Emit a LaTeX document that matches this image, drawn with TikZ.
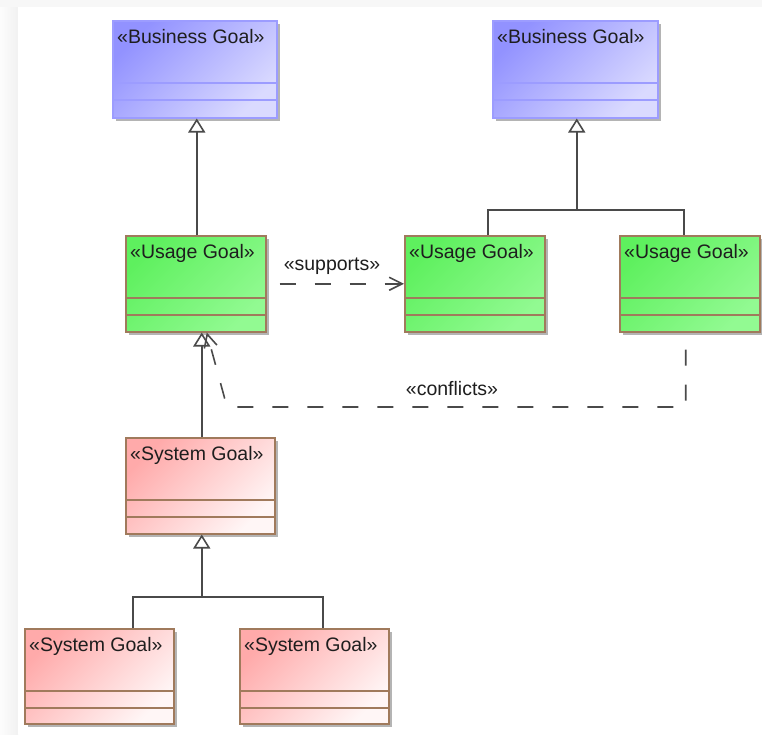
\documentclass[tikz,border=0pt]{standalone}
\usepackage{fontspec}
\setmainfont{Liberation Sans}
\usetikzlibrary{arrows.meta}

\definecolor{bgA}{HTML}{9292FF}
\definecolor{bgB}{HTML}{DADAFF}
\definecolor{bgEdge}{HTML}{9C9CFF}
\definecolor{ugA}{HTML}{5EF05E}
\definecolor{ugB}{HTML}{92FA92}
\definecolor{sgA}{HTML}{FFAAAA}
\definecolor{sgB}{HTML}{FFF6F6}
\definecolor{brownEdge}{HTML}{A07A5C}
\definecolor{shadowgray}{HTML}{B4B4B4}
\definecolor{linegray}{HTML}{4A4A4A}
\definecolor{textgray}{HTML}{1E1E1E}

\tikzset{
  classbox/.style={anchor=north west, inner sep=0pt, line width=1.5pt,
    preaction={fill=shadowgray, transform canvas={xshift=3pt,yshift=-3pt}}},
  business/.style={classbox, draw=bgEdge, top color=bgA, bottom color=bgB, shading angle=45},
  usage/.style={classbox, draw=brownEdge, top color=ugA, bottom color=ugB, shading angle=45},
  systemg/.style={classbox, draw=brownEdge, top color=sgA, bottom color=sgB, shading angle=45},
  stereo/.style={anchor=base west, inner sep=0pt, text=textgray, font=\fontsize{19.5}{23}\selectfont},
  edgelabel/.style={anchor=base, inner sep=0pt, text=textgray, font=\fontsize{19.5}{23}\selectfont},
  gen/.style={draw=linegray, line width=1.6pt,
    -{Triangle[open, length=14pt, width=17pt]}},
  link/.style={draw=linegray, line width=1.6pt},
  dep/.style={draw=linegray, line width=1.6pt, dash pattern=on 16pt off 19pt,
    -{Straight Barb[length=13pt, width=13pt]}},
}

\begin{document}
\begin{tikzpicture}[x=1pt, y=-1pt]
  \useasboundingbox (0,0) rectangle (762,734);
  % window frame
  \fill[gray!6] (0,0) rectangle (762,734);
  \shade[left color=gray!2, right color=gray!11] (0,7) rectangle (18,734);
  \fill[white] (18,7) rectangle (762,734);

  % classes
  \node[business, minimum width=164pt, minimum height=97pt] (bg1) at (112,20) {};
  \node[business, minimum width=165pt, minimum height=97pt] (bg2) at (492,20) {};
  \node[usage, minimum width=140pt, minimum height=96pt] (ug1) at (125,235) {};
  \node[usage, minimum width=140pt, minimum height=96pt] (ug2) at (404,235) {};
  \node[usage, minimum width=140pt, minimum height=96pt] (ug3) at (619,235) {};
  \node[systemg, minimum width=149pt, minimum height=96pt] (sg1) at (125,437) {};
  \node[systemg, minimum width=149pt, minimum height=95pt] (sg2) at (24,628) {};
  \node[systemg, minimum width=149pt, minimum height=95pt] (sg3) at (239,628) {};

  % compartment separators
  \foreach \n/\c in {bg1/bgEdge, bg2/bgEdge, ug1/brownEdge, ug2/brownEdge, ug3/brownEdge,
                     sg1/brownEdge, sg2/brownEdge, sg3/brownEdge} {
    \draw[\c, line width=1.5pt] ([yshift=-63pt]\n.north west) -- ([yshift=-63pt]\n.north east);
    \draw[\c, line width=1.5pt] ([yshift=-80pt]\n.north west) -- ([yshift=-80pt]\n.north east);
  }

  % stereotype names
  \foreach \n/\t in {bg1/Business Goal, bg2/Business Goal, ug1/Usage Goal, ug2/Usage Goal,
                     ug3/Usage Goal, sg1/System Goal, sg2/System Goal, sg3/System Goal} {
    \node[stereo] (\n-name) at ([xshift=5pt, yshift=-23pt]\n.north west) {«\t»};
  }

  % generalizations
  \draw[gen] ([xshift=1pt]ug1.north) -- ([xshift=1pt]ug1.north |- bg1.south);
  \draw[gen] ([xshift=1.5pt]sg1.north) -- ([xshift=1.5pt]sg1.north |- ug1.south);

  \coordinate (jtop) at ([xshift=1.5pt]bg2.south |- 0,210);
  \draw[link] ([xshift=13pt]ug2.north) |- (jtop) -| ([xshift=-6pt]ug3.north);
  \draw[gen] (jtop) -- ([xshift=1.5pt]bg2.south);

  \coordinate (jbot) at ([xshift=1.5pt]sg1.south |- 0,597);
  \draw[link] ([xshift=33.5pt]sg2.north) |- (jbot) -| ([xshift=8.5pt]sg3.north);
  \draw[gen] (jbot) -- ([xshift=1.5pt]sg1.south);

  % dependencies
  \draw[dep, shorten <=13pt] (ug1.east) -- (ug2.west);
  \node[edgelabel] (supports) at (332,270) {«supports»};

  \coordinate (cbend) at (227,407);
  \draw[dep, dash phase=18pt] ([xshift=-4pt]ug3.south) |- (cbend) -- ([xshift=11pt]ug1.south);
  \node[edgelabel] (conflicts) at (452,395) {«conflicts»};
\end{tikzpicture}
\end{document}
